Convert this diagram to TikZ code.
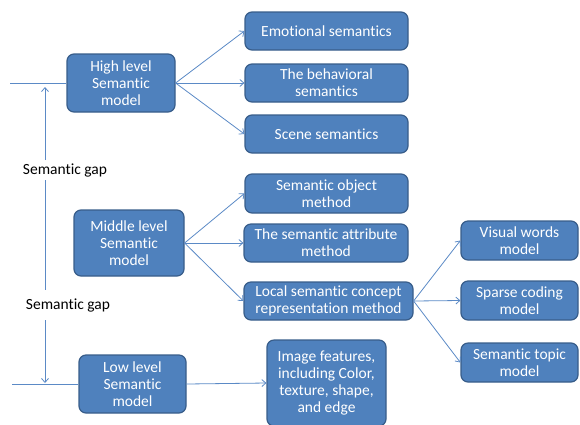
\documentclass[tikz,border=0pt]{standalone}
\usepackage{fontspec}
\setmainfont[Ligatures={NoCommon}]{Carlito}
\usetikzlibrary{arrows.meta}
\definecolor{boxfill}{HTML}{4F81BD}
\definecolor{boxline}{HTML}{385D8A}
\definecolor{conn}{HTML}{5B8AC6}
\begin{document}
\begin{tikzpicture}[x=1pt,y=-1pt,
  box/.style={draw=boxline,line width=1.2pt,fill=boxfill,rounded corners=7pt,text=white,align=center,
    font=\fontsize{15.5}{17}\selectfont,inner sep=0pt},
  conn/.style={draw=conn,line width=0.8pt},
  arr/.style={conn,-{Straight Barb[length=4pt,width=7pt]}},
  lbl/.style={font=\fontsize{15.5}{17}\selectfont,text=black}]
\useasboundingbox (0,0) rectangle (580,424);
% boxes
\node[box,minimum width=108pt,minimum height=58pt] (high) at (121,83) {High level\\Semantic\\model};
\node[box,minimum width=110pt,minimum height=66pt] (mid) at (129,243) {Middle level\\Semantic\\model};
\node[box,minimum width=107pt,minimum height=58pt] (low) at (132.5,384) {Low level\\Semantic\\model};
\node[box,minimum width=163pt,minimum height=38pt] (emo) at (326.5,31) {Emotional semantics};
\node[box,minimum width=163pt,minimum height=38pt] (beh) at (326.5,83) {The behavioral\\semantics};
\node[box,minimum width=163pt,minimum height=38pt] (scene) at (326.5,134) {Scene semantics};
\node[box,minimum width=163pt,minimum height=39pt] (obj) at (326.5,193.5) {Semantic object\\method};
\node[box,minimum width=164pt,minimum height=38pt] (attr) at (326,243) {The semantic attribute\\method};
\node[box,minimum width=169pt,minimum height=38pt] (local) at (328.5,301) {Local semantic concept\\representation method};
\node[box,minimum width=117pt,minimum height=39pt] (vis) at (519.5,240.5) {Visual words\\model};
\node[box,minimum width=117pt,minimum height=39pt] (sparse) at (519.5,300.5) {Sparse coding\\model};
\node[box,minimum width=117pt,minimum height=39pt] (topic) at (519.5,362.5) {Semantic topic\\model};
\node[box,minimum width=119pt,minimum height=86pt] (img) at (326.5,383) {Image features,\\including Color,\\texture, shape,\\and edge};
% labels
\node[lbl] (gap1) at (65,170) {Semantic gap};
\node[lbl] (gap2) at (68,305) {Semantic gap};
% coordinates
\coordinate (hl) at (10,83);
\coordinate (ll) at (12,384);
\coordinate (g1top) at (45,87);
\coordinate (g1bot) at (45,160);
\coordinate (g2top) at (45,180);
\coordinate (g2bot) at (45,290);
\coordinate (g3top) at (45,320);
\coordinate (g3bot) at (45,383);
% lines
\draw[conn] (hl) -- (high.west);
\draw[conn] (ll) -- (low.west);
\draw[arr] (g1bot) -- (g1top);
\draw[conn] (g2top) -- (g2bot);
\draw[arr] (g3top) -- (g3bot);
\draw[arr] (high.east) -- (emo.west);
\draw[arr] (high.east) -- (beh.west);
\draw[arr] (high.east) -- (scene.west);
\draw[arr] (mid.east) -- (obj.west);
\draw[arr] (mid.east) -- (attr.west);
\draw[arr] (mid.east) -- (local.west);
\draw[arr] (local.east) -- (vis.west);
\draw[arr] (local.east) -- (sparse.west);
\draw[arr] (local.east) -- (topic.west);
\draw[arr] (low.east) -- (img.west);
\end{tikzpicture}
\end{document}
